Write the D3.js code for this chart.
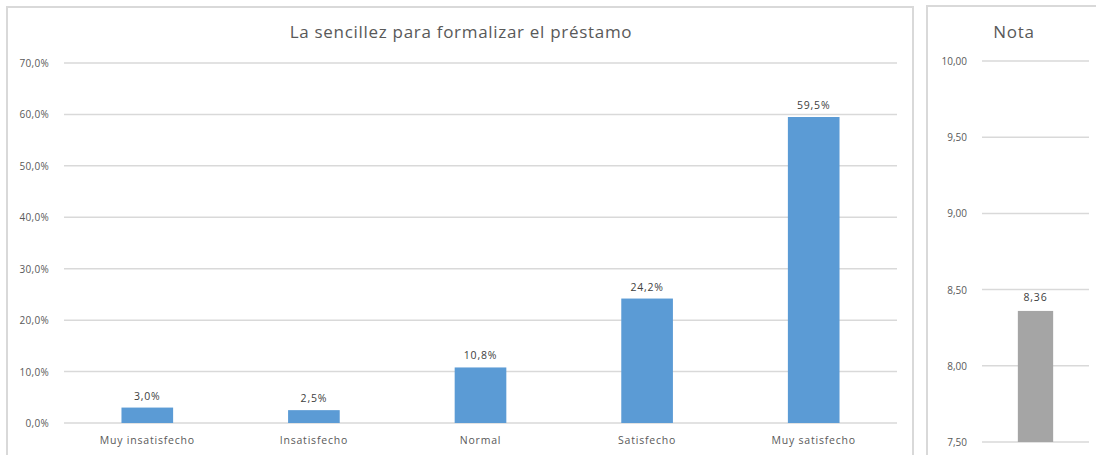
<!DOCTYPE html>
<html>
<head>
<meta charset="utf-8">
<script src="https://cdn.jsdelivr.net/npm/d3@7"></script>
<style>
  body { margin: 0; background: #fff; }
  svg { font-family: "Open Sans", sans-serif; }
</style>
</head>
<body>
<div id="chart"></div>
<script>
// Data
const categories = ["Muy insatisfecho", "Insatisfecho", "Normal", "Satisfecho", "Muy satisfecho"];
const percents = [3.0, 2.5, 10.8, 24.2, 59.5];
const pctTicks = [0, 10, 20, 30, 40, 50, 60, 70];

const notaLabel = ["Nota"];
const notaValue = [8.36];
const notaTicks = [7.5, 8.0, 8.5, 9.0, 9.5, 10.0];

const width = 1096;
const height = 455;
const textColor = "#595959";
const gridColor = "#d9d9d9";

const svg = d3.select("#chart")
  .append("svg")
  .attr("width", width)
  .attr("height", height);

const fmt = (v, d) => v.toFixed(d).replace(".", ",");

// Panel frames
svg.append("rect")
  .attr("x", 7).attr("y", 7)
  .attr("width", 906).attr("height", 460)
  .attr("fill", "none")
  .attr("stroke", gridColor)
  .attr("stroke-width", 2);

svg.append("rect")
  .attr("x", 927).attr("y", 6)
  .attr("width", 180).attr("height", 460)
  .attr("fill", "none")
  .attr("stroke", gridColor)
  .attr("stroke-width", 2);

// ---- Left chart: percentages
const x = d3.scaleBand()
  .domain(categories)
  .range([64, 897])
  .paddingInner(0.69)
  .paddingOuter(0.345);

const y = d3.scaleLinear()
  .domain([0, 70])
  .range([423, 63]);

svg.append("text")
  .attr("x", 461)
  .attr("y", 38)
  .attr("text-anchor", "middle")
  .style("font-size", "17px")
  .style("letter-spacing", "0.7px")
  .style("fill", textColor)
  .text("La sencillez para formalizar el préstamo");

// gridlines
svg.append("g")
  .selectAll("line")
  .data(pctTicks)
  .enter()
  .append("line")
  .attr("x1", 64)
  .attr("x2", 897)
  .attr("y1", d => y(d))
  .attr("y2", d => y(d))
  .attr("stroke", gridColor)
  .attr("stroke-width", 1.5);

// y labels
svg.append("g")
  .selectAll("text")
  .data(pctTicks)
  .enter()
  .append("text")
  .attr("x", 49)
  .attr("y", d => y(d) + 4)
  .attr("text-anchor", "end")
  .style("font-size", "10px")
  .style("letter-spacing", "0.3px")
  .style("fill", textColor)
  .text(d => fmt(d, 1) + "%");

// bars
svg.append("g")
  .selectAll("rect")
  .data(percents)
  .enter()
  .append("rect")
  .attr("x", (d, i) => x(categories[i]))
  .attr("width", x.bandwidth())
  .attr("y", d => y(d))
  .attr("height", d => y(0) - y(d))
  .attr("fill", "#5b9bd5");

// value labels
svg.append("g")
  .selectAll("text")
  .data(percents)
  .enter()
  .append("text")
  .attr("x", (d, i) => x(categories[i]) + x.bandwidth() / 2)
  .attr("y", d => y(d) - 8)
  .attr("text-anchor", "middle")
  .style("font-size", "10.5px")
  .style("letter-spacing", "0.8px")
  .style("fill", "#404040")
  .text(d => fmt(d, 1) + "%");

// category labels
svg.append("g")
  .selectAll("text")
  .data(categories)
  .enter()
  .append("text")
  .attr("x", d => x(d) + x.bandwidth() / 2)
  .attr("y", 444)
  .attr("text-anchor", "middle")
  .style("font-size", "10.5px")
  .style("letter-spacing", "0.8px")
  .style("fill", textColor)
  .text(d => d);

// ---- Right chart: nota
const x2 = d3.scaleBand()
  .domain(notaLabel)
  .range([982, 1089])
  .paddingInner(0.67)
  .paddingOuter(0.33);

const y2 = d3.scaleLinear()
  .domain([7.5, 10])
  .range([442, 61]);

svg.append("text")
  .attr("x", 1014)
  .attr("y", 38)
  .attr("text-anchor", "middle")
  .style("font-size", "17px")
  .style("letter-spacing", "0.7px")
  .style("fill", textColor)
  .text("Nota");

svg.append("g")
  .selectAll("line")
  .data(notaTicks)
  .enter()
  .append("line")
  .attr("x1", 982)
  .attr("x2", 1089)
  .attr("y1", d => y2(d))
  .attr("y2", d => y2(d))
  .attr("stroke", gridColor)
  .attr("stroke-width", 1.5);

svg.append("g")
  .selectAll("text")
  .data(notaTicks)
  .enter()
  .append("text")
  .attr("x", 967)
  .attr("y", d => y2(d) + 4)
  .attr("text-anchor", "end")
  .style("font-size", "10px")
  .style("fill", textColor)
  .text(d => fmt(d, 2));

svg.append("g")
  .selectAll("rect")
  .data(notaValue)
  .enter()
  .append("rect")
  .attr("x", (d, i) => x2(notaLabel[i]))
  .attr("width", x2.bandwidth())
  .attr("y", d => y2(d))
  .attr("height", d => y2(7.5) - y2(d))
  .attr("fill", "#a5a5a5");

svg.append("g")
  .selectAll("text")
  .data(notaValue)
  .enter()
  .append("text")
  .attr("x", (d, i) => x2(notaLabel[i]) + x2.bandwidth() / 2)
  .attr("y", d => y2(d) - 10)
  .attr("text-anchor", "middle")
  .style("font-size", "10.5px")
  .style("letter-spacing", "0.8px")
  .style("fill", "#404040")
  .text(d => fmt(d, 2));
</script>
</body>
</html>
